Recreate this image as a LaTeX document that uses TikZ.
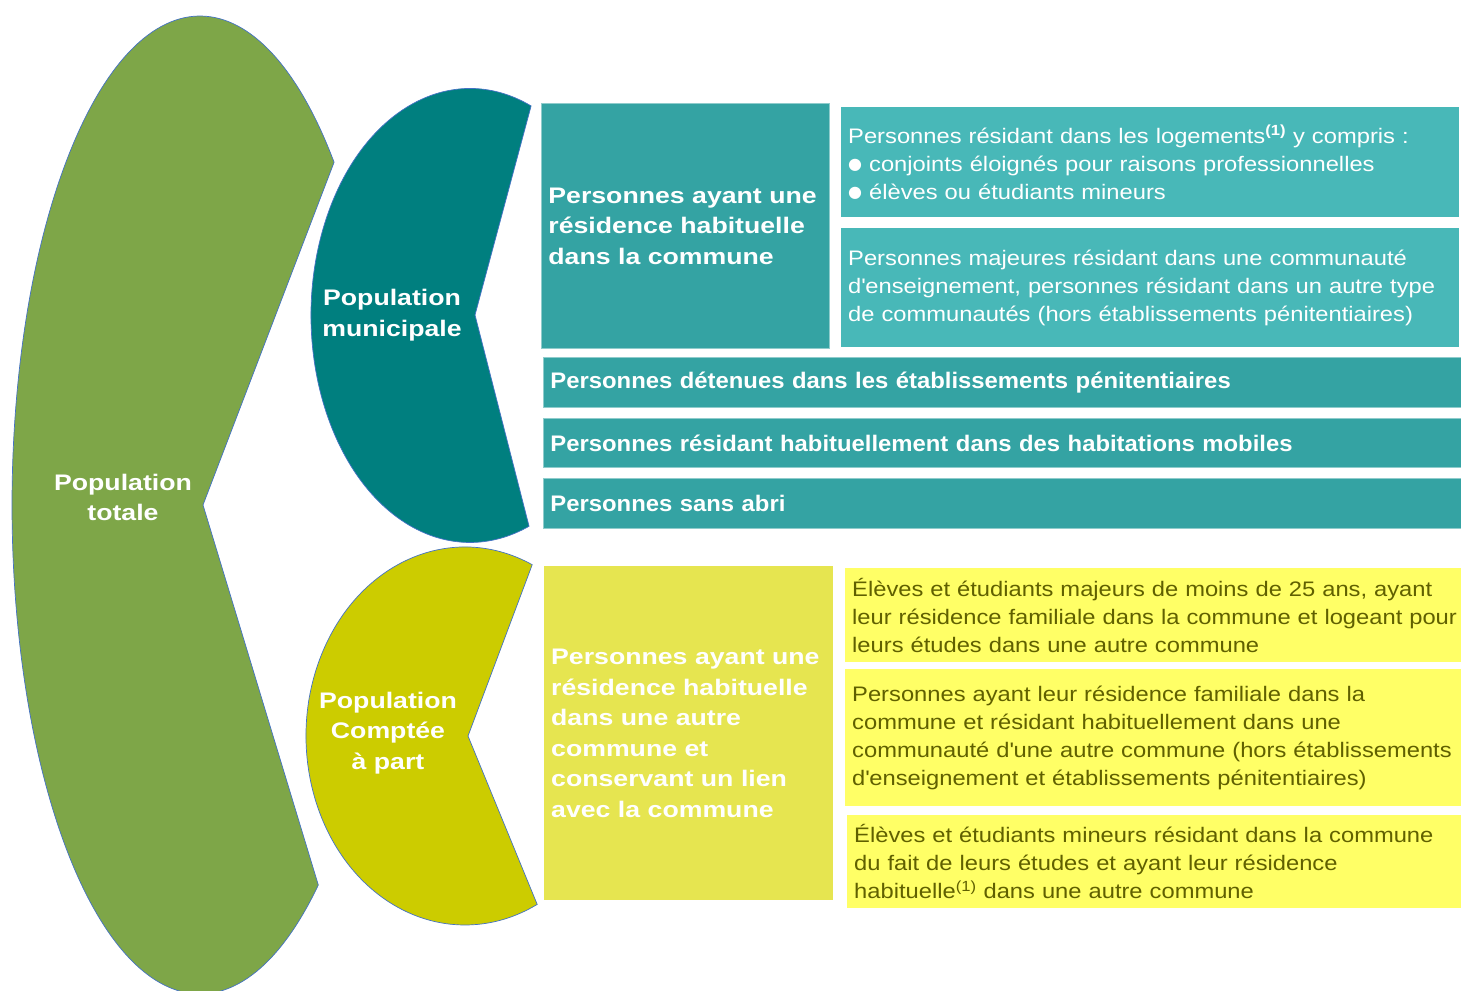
\documentclass[tikz,border=0pt]{standalone}
\usepackage{fontspec}
\setmainfont{Liberation Sans}[FakeStretch=1.13]
\newfontfamily\widefont{Liberation Sans}[FakeStretch=1.185]
\newfontfamily\rowfont{Liberation Sans}[FakeStretch=1.06]
\newfontfamily\bulletfont{DejaVu Sans}

\definecolor{totalgreen}{RGB}{126,166,72}
\definecolor{munteal}{RGB}{0,127,127}
\definecolor{partolive}{RGB}{204,204,0}
\definecolor{boxteal}{RGB}{52,163,163}
\definecolor{boxlight}{RGB}{72,184,184}
\definecolor{boxyellow}{RGB}{230,229,80}
\definecolor{notepale}{RGB}{255,255,102}
\definecolor{notetext}{RGB}{96,96,0}
\definecolor{rimblue}{RGB}{68,114,196}

\tikzset{
  rim/.style={draw=rimblue, line width=0.7bp},
  bigtext/.style={text=white, align=center, font=\widefont\fontsize{22.5bp}{30.5bp}\selectfont\bfseries},
  box/.style={anchor=north west, inner xsep=7bp, inner ysep=0pt, align=left, text=white},
  boldtext/.style={font=\widefont\fontsize{22.5bp}{30.5bp}\selectfont\bfseries},
  rowtext/.style={font=\rowfont\fontsize{22.5bp}{30.5bp}\selectfont\bfseries},
  plaintext/.style={font=\fontsize{21bp}{28bp}\selectfont},
  tealrim/.style={draw=white!45!boxteal, line width=0.8bp},
}
\newcommand{\bul}{\raisebox{1.5bp}{\bulletfont\fontsize{16bp}{16bp}\selectfont ●}}
\newcommand{\ap}{\textquotesingle}

\begin{document}
\begin{tikzpicture}[x=1bp, y=1bp]
\def\totalshape{(200,485) ++(44.5:188 and 489) arc[start angle=44.5, end angle=309, x radius=188, y radius=489] -- (203,485) -- cycle}
\def\municipalshape{(470,674.5) ++(67.4:159 and 227) arc[start angle=67.4, end angle=291.8, x radius=159, y radius=227] -- (475,675) -- cycle}
\def\apartshape{(465,254) ++(65:159 and 189) arc[start angle=65, end angle=297, x radius=159, y radius=189] -- (468,254) -- cycle}

\useasboundingbox (0,0) rectangle (1461,990);
\clip (0,0) rectangle (1461,990);

% the three populations
\fill[totalgreen] \totalshape;
\draw[rim] \totalshape;
\fill[munteal] \municipalshape;
\draw[rim] \municipalshape;
\fill[partolive] \apartshape;
\draw[rim] \apartshape;

\node[bigtext] (total) at (123,492.5) {Population\\totale};
\node[bigtext] (municipale) at (392,675) {Population\\municipale};
\node[bigtext] (apart) at (388,257) {Population\\Comptée\\à part};

% population municipale
\node[box, boldtext, fill=boxteal, tealrim, minimum height=245bp, text width=274bp] (habituelle) at (541,887)
  {Personnes ayant une\\résidence habituelle\\dans la commune};
\node[box, plaintext, fill=boxlight, minimum height=110bp, text width=604bp] (logements) at (841,883)
  {Personnes résidant dans les logements\textsuperscript{\bfseries(1)} y compris :\\\bul\ conjoints éloignés pour raisons professionnelles\\\bul\ élèves ou étudiants mineurs};
\node[box, plaintext, fill=boxlight, minimum height=119bp, text width=604bp] (communautes) at (841,762)
  {Personnes majeures résidant dans une communauté\\d\ap enseignement, personnes résidant dans un autre type\\de communautés (hors établissements pénitentiaires)};
\node[box, rowtext, fill=boxteal, tealrim, minimum height=50bp, text width=904bp] (detenues) at (543,633)
  {Personnes détenues dans les établissements pénitentiaires};
\node[box, rowtext, fill=boxteal, tealrim, minimum height=49bp, text width=904bp] (mobiles) at (543,572)
  {Personnes résidant habituellement dans des habitations mobiles};
\node[box, rowtext, fill=boxteal, tealrim, minimum height=50bp, text width=904bp] (sansabri) at (543,512)
  {Personnes sans abri};

% population comptee a part
\node[box, boldtext, fill=boxyellow, minimum height=334bp, text width=275bp] (autre) at (544,424)
  {Personnes ayant une\\résidence habituelle\\dans une autre\\commune et\\conservant un lien\\avec la commune};
\node[box, plaintext, fill=notepale, text=notetext, minimum height=94bp, text width=602bp] (majeurs) at (845,422)
  {Élèves et étudiants majeurs de moins de 25 ans, ayant\\\mbox{leur résidence familiale dans la commune et logeant pour}\\leurs études dans une autre commune};
\node[box, plaintext, fill=notepale, text=notetext, minimum height=137bp, text width=602bp] (familiale) at (845,321)
  {Personnes ayant leur résidence familiale dans la\\commune et résidant habituellement dans une\\\mbox{communauté d\ap une autre commune (hors établissements}\\d\ap enseignement et établissements pénitentiaires)};
\node[box, plaintext, fill=notepale, text=notetext, minimum height=93bp, text width=600bp] (mineurs) at (847,175)
  {Élèves et étudiants mineurs résidant dans la commune\\du fait de leurs études et ayant leur résidence\\habituelle\textsuperscript{(1)} dans une autre commune};
\end{tikzpicture}
\end{document}
